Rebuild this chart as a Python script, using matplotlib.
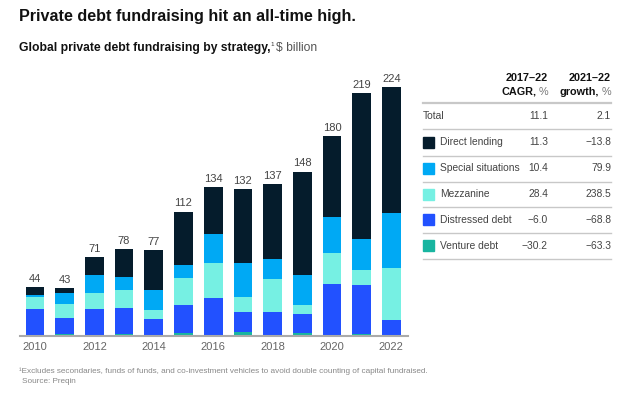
import numpy as np
import matplotlib
matplotlib.use("Agg")
import matplotlib.pyplot as plt
from matplotlib.lines import Line2D
from matplotlib.patches import Rectangle

plt.rcParams['font.family'] = ['Liberation Sans', 'DejaVu Sans']

# Datos (en $ billion)
anios = np.arange(2010, 2023)
direct_lending = [7.5, 4.6, 16.5, 24.9, 36.0, 48.4, 42.5, 66.0, 68.0, 92.8, 72.4, 132.0, 113.4]
special_situations = [1.0, 9.6, 15.9, 11.7, 17.7, 11.7, 25.5, 30.6, 18.0, 27.6, 32.7, 27.6, 49.7]
mezzanine = [11.4, 12.3, 14.4, 16.5, 8.4, 24.0, 31.8, 13.6, 29.7, 8.1, 27.6, 13.8, 46.7]
distressed = [23.8, 15.0, 24.0, 23.4, 14.7, 25.5, 33.3, 18.4, 20.7, 17.1, 46.8, 43.8, 13.7]
venture = [0.3, 1.5, 0.3, 1.5, 0.3, 2.4, 0.9, 3.4, 0.6, 2.4, 0.3, 1.8, 0.7]
totales = [44, 43, 71, 78, 77, 112, 134, 132, 137, 148, 180, 219, 224]

anios_ticks = [2010, 2012, 2014, 2016, 2018, 2020, 2022]

# Tabla
filas = ["Total", "Direct lending", "Special situations", "Mezzanine", "Distressed debt", "Venture debt"]
cagr = ["11.1", "11.3", "10.4", "28.4", "\u22126.0", "\u221230.2"]
crecimiento = ["2.1", "\u221213.8", "79.9", "238.5", "\u221268.8", "\u221263.3"]

colores = {
    "Direct lending": "#051C2C",
    "Special situations": "#00A9F4",
    "Mezzanine": "#76F0E3",
    "Distressed debt": "#2251FF",
    "Venture debt": "#18B5A0",
}

W, H = 631, 397
fig = plt.figure(figsize=(W / 100, H / 100), dpi=100)

def fx(px):
    return px / W

def fy(py):
    return 1 - py / H

# Ejes de las barras
ax = fig.add_axes([fx(20), fy(336), fx(408) - fx(20), fy(80) - fy(336)])
pos = np.arange(len(anios))
ancho = 0.63

series = [
    (venture, "Venture debt"),
    (distressed, "Distressed debt"),
    (mezzanine, "Mezzanine"),
    (special_situations, "Special situations"),
    (direct_lending, "Direct lending"),
]
base = np.zeros(len(anios))
for valores, nombre in series:
    ax.bar(pos, valores, ancho, bottom=base, color=colores[nombre], linewidth=0)
    base = base + np.array(valores)

for i, t in enumerate(totales):
    ax.text(pos[i], base[i] + 3, str(t), ha="center", va="bottom", fontsize=8, color="#444444")

ax.set_xlim(-0.505, 12.56)
ax.set_ylim(0, 230.6)
ax.set_yticks([])
ax.set_xticks([list(anios).index(a) for a in anios_ticks])
ax.set_xticklabels([str(a) for a in anios_ticks], fontsize=8, color="#666666")
ax.tick_params(axis="x", length=0, pad=4)
for s in ["top", "right", "left"]:
    ax.spines[s].set_visible(False)
ax.spines["bottom"].set_color("#AAAAAA")
ax.spines["bottom"].set_linewidth(1.5)
ax.patch.set_alpha(0)

# Titulos
fig.text(fx(19), fy(17), "Private debt fundraising hit an all-time high.", fontsize=11.6,
         fontweight="bold", color="#111111", va="center", ha="left")
t1 = fig.text(fx(19), fy(48), "Global private debt fundraising by strategy,", fontsize=8.7,
              fontweight="bold", color="#111111", va="center", ha="left")
fig.canvas.draw()
rend = fig.canvas.get_renderer()
bb = t1.get_window_extent(rend)
x_fin = bb.x1 / W
fig.text(x_fin, fy(45), "1", fontsize=4.5, color="#333333", va="center", ha="left")
fig.text(x_fin + fx(6), fy(48), "$ billion", fontsize=8.7, color="#555555", va="center", ha="left")

# Tabla a la derecha
col1 = fx(548)
col2 = fx(611)

def encabezado(x, arriba, abajo):
    fig.text(x, fy(78), arriba, fontsize=7.8, fontweight="bold", ha="right", va="center", color="#111111")
    p = fig.text(x, fy(92), "%", fontsize=7.8, ha="right", va="center", color="#777777")
    ancho_p = p.get_window_extent(rend).width / W
    fig.text(x - ancho_p - fx(2), fy(92), abajo, fontsize=7.8, fontweight="bold", ha="right",
             va="center", color="#111111")

encabezado(col1, "2017\u201322", "CAGR,")
encabezado(col2, "2021\u201322", "growth,")

lineas_y = [103.3, 129.3, 155.7, 181.7, 207.3, 233.3, 259.0]
for k, ly in enumerate(lineas_y):
    fig.add_artist(Line2D([fx(423), fx(611)], [fy(ly), fy(ly)], color="#C8C8C8",
                          linewidth=1.6 if k == 0 else 1.0))

fs_tabla = 7.4
for i, nombre in enumerate(filas):
    yc = (lineas_y[i] + lineas_y[i + 1]) / 2 - 0.5
    if nombre == "Total":
        fig.text(fx(423), fy(yc), nombre, fontsize=fs_tabla, color="#444444", ha="left", va="center")
    else:
        fig.add_artist(Rectangle((fx(423), fy(yc + 5.5)), fx(11), fy(0) - fy(11),
                                 color=colores[nombre], transform=fig.transFigure))
        fig.text(fx(440), fy(yc), nombre, fontsize=fs_tabla, color="#444444", ha="left", va="center")
    fig.text(col1, fy(yc), cagr[i], fontsize=fs_tabla, color="#444444", ha="right", va="center")
    fig.text(col2, fy(yc), crecimiento[i], fontsize=fs_tabla, color="#444444", ha="right", va="center")

# Notas al pie
fig.text(fx(19), fy(371.5), "\u00b9Excludes secondaries, funds of funds, and co-investment vehicles to avoid double counting of capital fundraised.",
         fontsize=5.85, color="#888888", ha="left", va="center")
fig.text(fx(22), fy(381.5), "Source: Preqin", fontsize=5.85, color="#888888", ha="left", va="center")

fig.savefig("out.png", dpi=100)
